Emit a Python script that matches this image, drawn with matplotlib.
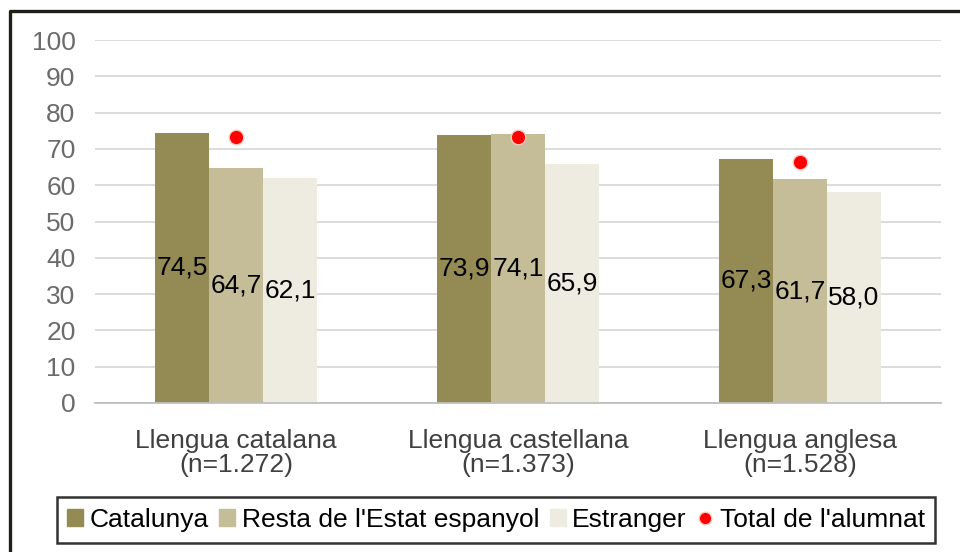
import numpy as np
import matplotlib.pyplot as plt
from matplotlib.patches import Rectangle
from matplotlib.lines import Line2D

categories = ['Llengua catalana\n(n=1.272)', 'Llengua castellana\n(n=1.373)', 'Llengua anglesa\n(n=1.528)']
catalunya = [74.5, 73.9, 67.3]
resta = [64.7, 74.1, 61.7]
estranger = [62.1, 65.9, 58.0]
total = [73.3, 73.3, 66.4]
series_names = ['Catalunya', "Resta de l'Estat espanyol", 'Estranger']
colors = ['#948A54', '#C4BD97', '#EEECE1']

plt.rcParams['font.family'] = ['Liberation Sans', 'DejaVu Sans']

fig = plt.figure(figsize=(9.6, 5.52), dpi=100)
ax = fig.add_axes([95/960, 1-403/552, (941-95)/960, (403-40)/552])

x = np.arange(len(categories))
w = 0.191
for i, (vals, c) in enumerate(zip([catalunya, resta, estranger], colors)):
    pos = x + (i - 1) * w
    ax.bar(pos, vals, w, color=c, zorder=2)
    for p, v in zip(pos, vals):
        ax.text(p, v / 2, f'{v:.1f}'.replace('.', ','), ha='center', va='center',
                fontsize=19, color='black', zorder=3)
ax.scatter(x, total, s=110, color='#FF0000', edgecolor='#F8C8C0', linewidth=1, zorder=4)

ax.set_xlim(-0.5, 2.5)
ax.set_ylim(0, 100)
ax.set_yticks(range(0, 101, 10))
ax.set_xticks(x)
ax.set_xticklabels(categories, fontsize=19, color='#404040', linespacing=1.0)
ax.tick_params(axis='y', labelsize=19, labelcolor='#6b6b6b', length=0, pad=14)
ax.tick_params(axis='x', length=0, pad=19)
ax.grid(axis='y', color='#D9D9D9', linewidth=1.3, zorder=0)
for s in ['top', 'right', 'left']:
    ax.spines[s].set_visible(False)
ax.spines['bottom'].set_color('#BFBFBF')
ax.spines['bottom'].set_linewidth(1.3)

handles = [Rectangle((0, 0), 1, 1, color=c) for c in colors]
handles.append(Line2D([], [], marker='o', linestyle='none', markersize=9,
                      markerfacecolor='#FF0000', markeredgecolor='#F8C8C0'))
leg = fig.legend(handles, series_names + ["Total de l'alumnat"], loc='center',
                 bbox_to_anchor=(496/960, 1-520/552), ncol=4, fontsize=19,
                 frameon=True, fancybox=False, handlelength=0.6, handleheight=0.6,
                 handletextpad=0.25, columnspacing=0.4, borderpad=0.4, borderaxespad=0)
leg.get_frame().set_edgecolor('black')
leg.get_frame().set_linewidth(1.8)

# outer frame: only top and left edges are visible
fig.lines.append(Line2D([10/960, 10/960, 1], [0, 1-11/552, 1-11/552], transform=fig.transFigure,
                        color='#1f1f17', linewidth=2.4))

fig.savefig('out.png', dpi=100)
